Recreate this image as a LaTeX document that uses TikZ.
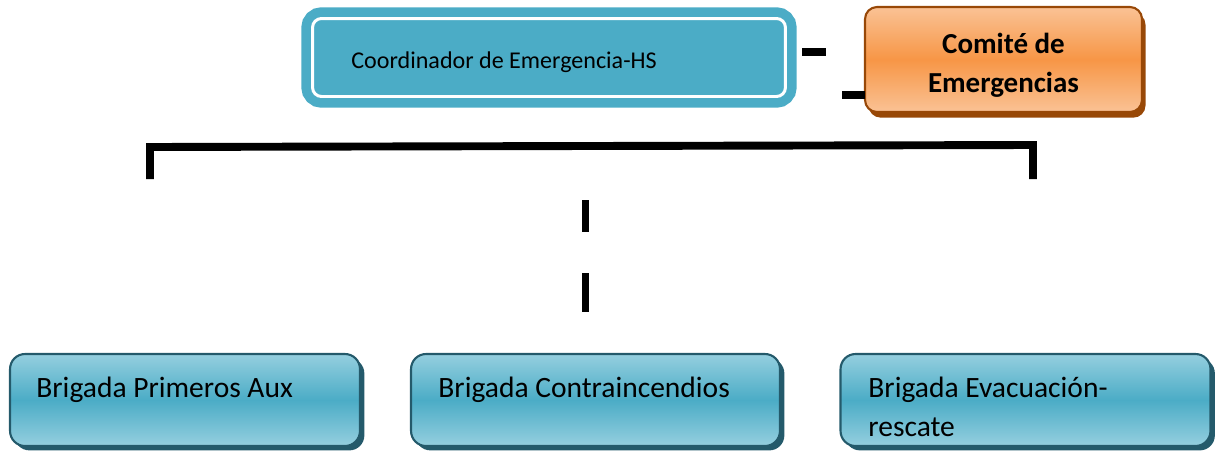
\documentclass[tikz,border=0pt]{standalone}
\usepackage{fontspec}
\setmainfont{Carlito}
\usepackage{tikz}
\usetikzlibrary{shadows}
\usepackage{xcolor}

\definecolor{coordfill}{HTML}{4BACC6}
\definecolor{comitemid}{HTML}{F79646}
\definecolor{comitelight}{HTML}{FAC295}
\definecolor{comiteedge}{HTML}{984807}
\definecolor{brigmid}{HTML}{4BACC6}
\definecolor{briglight}{HTML}{95CFDF}
\definecolor{brigedge}{HTML}{245A6B}

\begin{document}
\begin{tikzpicture}[x=0.02cm, y=-0.02cm]
          \tikzset{
            CoordStyle/.style = { rectangle, rounded corners=0.18cm,
              fill=coordfill, draw=coordfill, line width=5.5pt,
              double=white, double distance=1.7pt, outer sep=0pt,
              minimum width=9.46cm, minimum height=1.56cm },
            ComiteStyle/.style = { rectangle, rounded corners=0.24cm,
              draw=comiteedge, line width=1.2pt, outer sep=0pt,
              top color=comitelight, bottom color=comitelight,
              middle color=comitemid,
              drop shadow={shadow xshift=2pt, shadow yshift=-3.2pt,
                fill=comiteedge, opacity=1},
              minimum width=5.54cm, minimum height=2.1cm },
            BrigadaStyle/.style = { rectangle, rounded corners=0.3cm,
              draw=brigedge, line width=1.2pt, outer sep=0pt,
              top color=briglight, bottom color=briglight,
              middle color=brigmid,
              drop shadow={shadow xshift=2.5pt, shadow yshift=-2.5pt,
                fill=brigedge, opacity=1},
              minimum height=1.84cm },
            BrigadaText/.style = { anchor=base west, inner sep=0pt,
              align=left, font = \fontsize{16.8}{22.4}\selectfont },
            BarStyle/.style = { line width=4.5pt } }

          \useasboundingbox (0,0) rectangle (1219,453);

          % top row
          \node[CoordStyle] (Coord) at (549,57.5) {};
          \node[anchor=base west, inner sep=0pt,
            font=\fontsize{13.7}{16}\selectfont] (CoordText)
            at ([shift={(38.5,49.5)}]Coord.north west) {Coordinador de Emergencia-HS};
          \node[ComiteStyle] (Comite) at (1003.5,59.5) {};
          \node[anchor=base, inner sep=0pt, align=center,
            font=\fontsize{16.5}{22.1}\selectfont\bfseries] (ComiteText)
            at (1003.5,92) {Comité de\\Emergencias};

          % brigadas
          \node[BrigadaStyle, minimum width=7cm] (Aux) at (185,400) {};
          \node[BrigadaStyle, minimum width=7.38cm] (Contra) at (595.5,400) {};
          \node[BrigadaStyle, minimum width=7.4cm] (Evac) at (1025.5,400) {};
          \node[BrigadaText] (AuxText) at ([shift={(26,43)}]Aux.north west) {Brigada Primeros Aux};
          \node[BrigadaText] (ContraText) at ([shift={(27,43)}]Contra.north west) {Brigada Contraincendios};
          \node[BrigadaText] (EvacText) at ([shift={(27.5,82.5)}]Evac.north west) {Brigada Evacuación-\\rescate};

          % lineas
          \coordinate (DashA) at (802,52);
          \coordinate (DashB) at (842,95);
          \coordinate (BarL) at (150,179);
          \coordinate (BarR) at (1033,179);
          \coordinate (MidTop) at (585.5,200);
          \coordinate (MidLow) at (585.5,273);
          \draw[BarStyle] (DashA) -- ++(24,0);
          \draw[BarStyle] (DashB) -- (DashB -| Comite.west);
          \draw[BarStyle] (BarL) -- ++(0,-32) -- (1033,145) -- (BarR);
          \draw[BarStyle] (MidTop) -- ++(0,32);
          \draw[BarStyle] (MidLow) -- ++(0,39);
        \end{tikzpicture}
\end{document}
